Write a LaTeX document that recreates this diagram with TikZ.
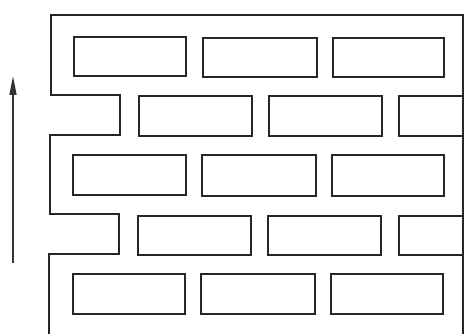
\documentclass[tikz,border=0pt]{standalone}
\usetikzlibrary{arrows.meta}
\begin{document}
\begin{tikzpicture}[x=1pt,y=-1pt,
  wall/.style={line width=2.4pt, draw=black!85, line join=miter},
  brick/.style={line width=2.2pt, draw=black!85},
  uparrow/.style={line width=1.4pt, draw=black!80, -{Triangle[length=19pt,width=7pt]}}]
\useasboundingbox (0,0) rectangle (466,334);
% outer outline with steps on the left
\draw[wall] (463,15) -- (51,15) -- (51,95) -- (120,95) -- (120,135) -- (50,135)
  -- (50,214) -- (119,214) -- (119,254) -- (49,254) -- (49,336);
\draw[wall] (463,13.8) -- (463,336);
% row 1
\draw[brick] (74,37) rectangle (186,76);
\draw[brick] (203,38) rectangle (317,77);
\draw[brick] (333,38) rectangle (444,77);
% row 2
\draw[brick] (463,96) -- (399,96) -- (399,136) -- (463,136);
\draw[brick] (139,96) rectangle (252,136);
\draw[brick] (269,96) rectangle (382,136);
% row 3
\draw[brick] (73,155) rectangle (186,195);
\draw[brick] (202,155) rectangle (316,196);
\draw[brick] (332,155) rectangle (444,196);
% row 4
\draw[brick] (138,216) rectangle (251,255);
\draw[brick] (268,216) rectangle (381,255);
\draw[brick] (463,216) -- (399,216) -- (399,255) -- (463,255);
% row 5
\draw[brick] (73,274) rectangle (185,314);
\draw[brick] (201,274) rectangle (315,314);
\draw[brick] (331,274) rectangle (443,314);
% arrow
\coordinate (abot) at (13,263);
\coordinate (atop) at (13,76);
\draw[uparrow] (abot) -- (atop);
\end{tikzpicture}
\end{document}
